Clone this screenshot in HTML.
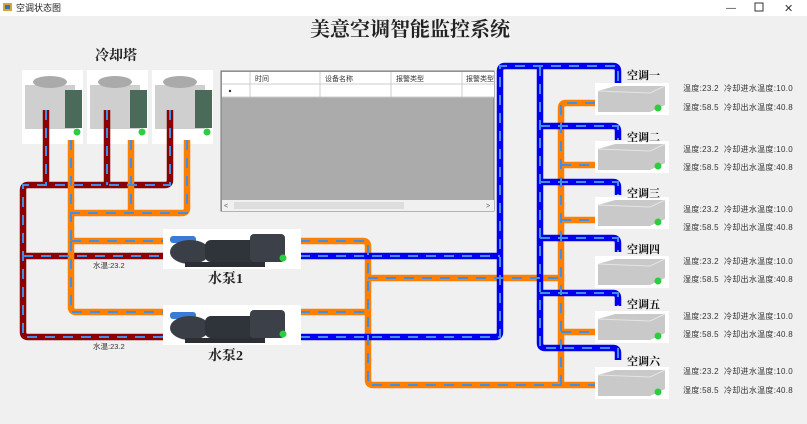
<!DOCTYPE html>
<html><head><meta charset="utf-8"><style>
body{margin:0;width:807px;height:424px;overflow:hidden;background:#f0f0f0;font-family:"Liberation Sans","Noto Sans CJK SC",sans-serif}
svg{display:block}
</style></head><body>
<svg width="807" height="424" viewBox="0 0 807 424" xmlns="http://www.w3.org/2000/svg">
<rect x="0" y="0" width="807" height="16" fill="#fff"/>
<rect x="3" y="3" width="9" height="8" fill="#d9a53a"/><rect x="5" y="5" width="5" height="4" fill="#3a6fc4"/>
<text x="16" y="11" font-size="9" fill="#222" font-family="Liberation Sans,Noto Sans CJK SC,sans-serif">空调状态图</text>
<text x="726" y="11" font-size="10" fill="#333">—</text><rect x="755" y="3" width="8" height="8" fill="none" stroke="#333"/><text x="784" y="12" font-size="11" fill="#333">✕</text>
<text x="410" y="36" font-size="20" text-anchor="middle" fill="#222" font-family="Liberation Serif,Noto Serif CJK SC,serif" font-weight="bold">美意空调智能监控系统</text>
<text x="95" y="60" font-size="14" font-weight="bold" fill="#222" font-family="Liberation Serif,Noto Serif CJK SC,serif">冷却塔</text>

<g id="t">
<rect x="22" y="70" width="61" height="74" fill="#fff"/>
<rect x="25" y="85" width="50" height="44" fill="#cfcfcf"/>
<ellipse cx="50" cy="82" rx="17" ry="6" fill="#aaa"/>
<rect x="65" y="90" width="17" height="38" fill="#4a6a5a"/>
<circle cx="77" cy="132" r="3.5" fill="#2ecc40"/>
</g>
<use href="#t" x="65"/><use href="#t" x="130"/>

<rect x="221" y="71" width="273" height="140" fill="#ababab" stroke="#777"/>
<rect x="222" y="72" width="272" height="25" fill="#fff"/>
<g stroke="#ccc"><line x1="222" y1="84" x2="494" y2="84"/><line x1="222" y1="97" x2="494" y2="97"/>
<line x1="250" y1="72" x2="250" y2="97"/><line x1="320" y1="72" x2="320" y2="97"/><line x1="391" y1="72" x2="391" y2="97"/><line x1="462" y1="72" x2="462" y2="97"/></g>
<g font-size="7" fill="#333"><text x="255" y="81">时间</text><text x="325" y="81">设备名称</text><text x="396" y="81">报警类型</text><text x="466" y="81">报警类型</text></g>
<circle cx="230" cy="91" r="1.2" fill="#333"/>
<rect x="222" y="200" width="272" height="11" fill="#f0f0f0"/><rect x="234" y="202" width="170" height="7" fill="#ddd"/>
<text x="224" y="208" font-size="7" fill="#555">&lt;</text><text x="486" y="208" font-size="7" fill="#555">&gt;</text>

<g fill="none" stroke-width="6.5" stroke-linejoin="round">
<g stroke="#8b0000"><path d="M46 110V185M107 110V185M170 110V180Q170 185 165 185H28Q23 185 23 190V332Q23 337 28 337H165M23 256H165"/></g>
<g stroke="#ff8000"><path d="M71 140V241M131 140V213M187 140V208Q187 213 182 213H71M71 241V307Q71 312 76 312H165M71 241H165M300 241H363Q368 241 368 246V380Q368 385 373 385H596M300 312H368M368 278H561M561 385V108Q561 103 566 103H596M561 165H596M561 220H596M561 332H596"/></g>
<g stroke="#0000ee"><path d="M300 256H500M300 337H495Q500 337 500 332V71Q500 66 505 66H613Q618 66 618 71V84M540 66V343Q540 348 545 348H613Q618 348 618 353V360M540 126H613Q618 126 618 131V140M540 182H613Q618 182 618 187V195M540 238H613Q618 238 618 243V252M540 293H613Q618 293 618 298V306"/></g>
</g>
<g fill="none" stroke="#3f8fe8" stroke-width="2" stroke-dasharray="10 8">
<path d="M46 110V185M107 110V185M170 110V185H23V337H165M23 256H165"/>
<path d="M71 140V241M131 140V213M187 140V213H71M71 241V312H165M71 241H165M300 241H368V385H596M300 312H368M368 278H561M561 385V103H596M561 165H596M561 220H596M561 332H596"/>
<path d="M300 256H500M300 337H500V66H618V84M540 66V348H618V360M540 126H618V140M540 182H618V195M540 238H618V252M540 293H618V306"/>
</g>

<g id="p">
<rect x="163" y="229" width="138" height="40" fill="#fff"/>
<rect x="170" y="236" width="26" height="7" rx="3" fill="#3a7bd5"/>
<ellipse cx="190" cy="252" rx="20" ry="12" fill="#3a3f47"/>
<rect x="205" y="240" width="80" height="22" rx="6" fill="#2f333a"/>
<rect x="250" y="234" width="35" height="28" rx="4" fill="#3c4048"/>
<rect x="185" y="262" width="80" height="5" fill="#2b2e33"/>
<circle cx="283" cy="258" r="3.5" fill="#2ecc40"/>
</g>
<use href="#p" y="76"/>
<g font-family="Liberation Serif,Noto Serif CJK SC,serif" font-size="14" font-weight="bold" fill="#222"><text x="208" y="283">水泵1</text><text x="208" y="360">水泵2</text></g>
<g font-size="7.5" fill="#333"><text x="93" y="268">水温:23.2</text><text x="93" y="349">水温:23.2</text></g>

<defs><g id="a">
<rect x="0" y="0" width="74" height="32" fill="#fff"/>
<path d="M3 8L20 3H70L70 22L55 29H3Z" fill="#c9c9c9"/>
<path d="M3 8L55 10L70 3" fill="none" stroke="#e4e4e4"/>
<circle cx="63" cy="25" r="3.5" fill="#2ecc40"/>
</g></defs>
<g transform="translate(595,83)"><use href="#a"/></g>
<g transform="translate(595,141)"><use href="#a"/></g>
<g transform="translate(595,197)"><use href="#a"/></g>
<g transform="translate(595,256)"><use href="#a"/></g>
<g transform="translate(595,311)"><use href="#a"/></g>
<g transform="translate(595,367)"><use href="#a"/></g>
<g font-size="11" font-weight="bold" fill="#111" font-family="Liberation Serif,Noto Serif CJK SC,serif">
<text x="627" y="79">空调一</text><text x="627" y="141">空调二</text><text x="627" y="197">空调三</text><text x="627" y="253">空调四</text><text x="627" y="308">空调五</text><text x="627" y="365">空调六</text></g>
<g font-size="8" fill="#333" letter-spacing="0.3">
<text x="683" y="91">温度:23.2 &#160;冷却进水温度:10.0</text><text x="683" y="110">湿度:58.5 &#160;冷却出水温度:40.8</text>
<text x="683" y="152">温度:23.2 &#160;冷却进水温度:10.0</text><text x="683" y="170">湿度:58.5 &#160;冷却出水温度:40.8</text>
<text x="683" y="212">温度:23.2 &#160;冷却进水温度:10.0</text><text x="683" y="230">湿度:58.5 &#160;冷却出水温度:40.8</text>
<text x="683" y="264">温度:23.2 &#160;冷却进水温度:10.0</text><text x="683" y="282">湿度:58.5 &#160;冷却出水温度:40.8</text>
<text x="683" y="319">温度:23.2 &#160;冷却进水温度:10.0</text><text x="683" y="337">湿度:58.5 &#160;冷却出水温度:40.8</text>
<text x="683" y="374">温度:23.2 &#160;冷却进水温度:10.0</text><text x="683" y="393">湿度:58.5 &#160;冷却出水温度:40.8</text>
</g>
</svg>
</body></html>
